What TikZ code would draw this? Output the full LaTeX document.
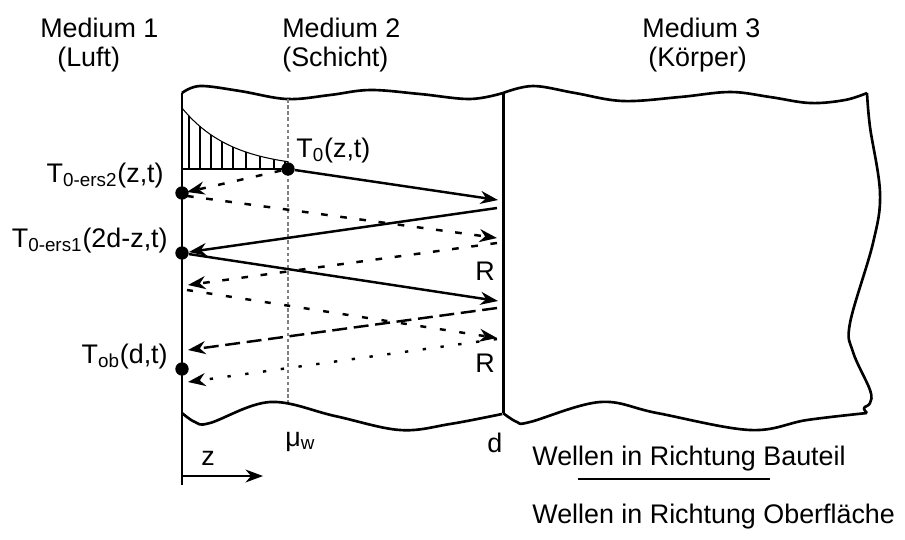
\documentclass[tikz,border=0pt]{standalone}
\usepackage{fontspec}
\setmainfont{Liberation Sans}
\usepackage{tikz}
\usetikzlibrary{positioning,arrows.meta}

\begin{document}
\begin{tikzpicture}[x=0.02cm, y=-0.02cm, every node/.style={font=\fontsize{15.3}{17}\selectfont, inner sep=0pt},
  wall/.style={line width=1.7pt}, wave/.style={line width=1.5pt, line join=round},
  tip/.style={-{Stealth[length=10pt, width=7.4pt, inset=3.2pt]}},
  ray/.style={tip, line width=1.4pt},
  shortdash/.style={dash pattern=on 3.8pt off 7.2pt}, finedash/.style={dash pattern=on 3.4pt off 7.8pt},
  longdash/.style={dash pattern=on 8.5pt off 3.8pt}, dotline/.style={dash pattern=on 1.9pt off 8.3pt},
  dot/.style={circle, fill, minimum size=7.6pt, inner sep=0pt}]
  \useasboundingbox (0,0) rectangle (905,539);

  % headings
  \node[anchor=base west] (m1) at (40,37) {Medium 1};
  \node[anchor=base west] (m1b) at (57,66) {(Luft)};
  \node[anchor=base west] (m2) at (282,37) {Medium 2};
  \node[anchor=base west] (m2b) at (282,66) {(Schicht)};
  \node[anchor=base west] (m3) at (642,37) {Medium 3};
  \node[anchor=base west] (m3b) at (648,66) {(Körper)};

  % layer and body outlines
  \draw[wave] plot[smooth, tension=0.6] coordinates {(182,93) (200,86) (240,91) (287,99) (330,95) (370,90) (420,94) (470,99) (503,93)};
  \draw[wave] plot[smooth, tension=0.6] coordinates {(503,93) (533,86) (575,93) (623,101) (680,97) (730,92) (770,97) (810,103) (845,100) (867,93)};
  \draw[wave] plot[smooth, tension=0.6] coordinates {(867,93) (870,127) (880,193) (873,243) (850,323) (853,352) (870,390) (870,403) (864,408) (867,413)};
  \draw[wave] plot[smooth, tension=0.6] coordinates {(182,413) (195,422) (210,423) (270,402) (335,416) (400,430) (450,424) (502,414)};
  \draw[wave] plot[smooth, tension=0.6] coordinates {(503,413) (517,422) (530,422) (600,402) (657,413) (750,430) (807,420) (867,413)};
  \draw[wall] (182,93) -- (182,413);
  \draw[wall] (503,93) -- (503,413);
  \draw[line width=0.7pt] (182,413) -- (182,485);
  \draw[gray, line width=0.6pt, dash pattern=on 2pt off 1.5pt] (288,99) -- (288,402);

  % profile of T0
  \draw[line width=0.6pt] (182,169) -- (288,169);
  \draw[line width=0.6pt, domain=182:288, samples=40] plot (\x,{169-61*exp(-(\x-182)/50)});
  \foreach \x in {189,200,211,222,233,246,260,274,285}
    \draw[line width=0.6pt] (\x,169) -- (\x,{169-61*exp(-(\x-182)/50)});

  % points
  \node[dot] (t0) at (288,169) {};
  \node[dot] (ers2) at (182,193) {};
  \node[dot] (ers1) at (182,253) {};
  \node[dot] (tob) at (182,369) {};
  \node[anchor=base west] (t0lab) at (296,157) {T\textsubscript{0}(z,t)};
  \node[anchor=base east] (ers2lab) at (164,182) {T\textsubscript{0-ers2}(z,t)};
  \node[anchor=base east] (ers1lab) at (168,247) {T\textsubscript{0-ers1}(2d-z,t)};
  \node[anchor=base east] (toblab) at (168,363) {T\textsubscript{ob}(d,t)};
  \node[anchor=base west] (r1) at (475,280) {R};
  \node[anchor=base west] (r2) at (475,372) {R};

  % wave ends
  \coordinate (aR) at (498,200);
  \coordinate (bR) at (497,208);
  \coordinate (cR) at (498,301);
  \coordinate (dL) at (187,192);
  \coordinate (eL) at (187,196);
  \coordinate (eR) at (497,238);
  \coordinate (fR) at (497,243);
  \coordinate (fL) at (188,285);
  \coordinate (gL) at (187,290);
  \coordinate (gR) at (497,338);
  \coordinate (hR) at (497,308);
  \coordinate (hL) at (188,350);
  \coordinate (iR) at (497,339);
  \coordinate (iL) at (188,382);

  \draw[ray] (t0) -- (aR);
  \draw[ray] (bR) -- (ers1);
  \draw[ray] (ers1) -- (cR);
  \draw[ray, shortdash] (t0) -- (dL);
  \draw[ray, shortdash] (eL) -- (eR);
  \draw[ray, shortdash] (fR) -- (fL);
  \draw[ray, finedash] (gL) -- (gR);
  \draw[ray, longdash] (hR) -- (hL);
  \draw[ray, dotline] (iR) -- (iL);

  % axis and legend
  \coordinate (z0) at (182,476);
  \coordinate (z1) at (263,476);
  \draw[tip, line width=0.7pt] (z0) -- (z1);
  \node[anchor=base west] (zlab) at (201,465) {z};
  \node[anchor=base west] (mu) at (285,446) {μ\textsubscript{w}};
  \node[anchor=base west] (dlab) at (487,452) {d};
  \node[anchor=base west] (leg1) at (532,465) {Wellen in Richtung Bauteil};
  \node[anchor=base west] (leg2) at (532,523) {Wellen in Richtung Oberfläche};
  \coordinate (lgA) at (578,479);
  \coordinate (lgB) at (770,479);
  \draw[line width=1.5pt] (lgA) -- (lgB);
\end{tikzpicture}
\end{document}
